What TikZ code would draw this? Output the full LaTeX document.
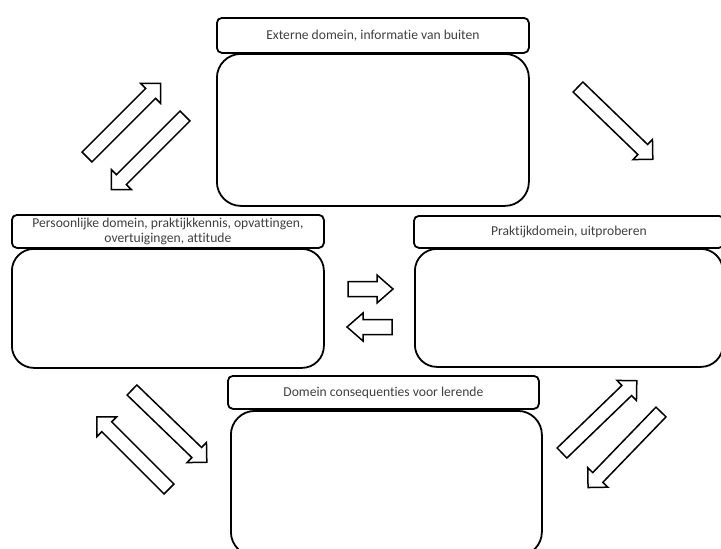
\documentclass[tikz,border=0pt]{standalone}
\usepackage{fontspec}
\setmainfont{Carlito}[Ligatures={NoCommon}]
\begin{document}
\begin{tikzpicture}[x=1pt,y=-1pt,
  titlebox/.style={draw=black, line width=1.8pt, rounded corners=5pt, fill=white,
    anchor=north west, inner sep=0pt, align=center, text=black!75,
    font=\fontsize{13.6}{17}\selectfont},
  bigbox/.style={draw=black, line width=1.8pt, rounded corners=24pt, fill=white,
    anchor=north west, inner sep=0pt},
  blockarrow/.style={draw=black, line width=1.5pt, fill=white, line join=miter}]
\useasboundingbox (0,0) rectangle (721,549);
\clip (0,0) rectangle (721,549);

\newcommand\blkarrow[7]{% x y angle length headlen shafthalf name
  \begin{scope}[shift={(#1,#2)}, rotate=#3]
    \coordinate (#7) at (0,0);
    \draw[blockarrow] (0,-#6) -- ({#4-#5},-#6) -- ({#4-#5},-14) -- (#4,0)
      -- ({#4-#5},14) -- ({#4-#5},#6) -- (0,#6) -- cycle;
  \end{scope}}

% top
\node[bigbox, minimum width=312pt, minimum height=152pt] (extb) at (216,53) {};
\node[titlebox, minimum width=312pt, minimum height=35pt] (extt) at (216,17)
  {Externe domein, informatie van buiten};
% left
\node[bigbox, rounded corners=22pt, minimum width=312pt, minimum height=119pt] (persb) at (11,248) {};
\node[titlebox, minimum width=312pt, minimum height=33pt] (perst) at (11,214)
  {\raisebox{1.5pt}{\begin{tabular}{@{}c@{}}Persoonlijke domein, praktijkkennis, opvattingen,\\[-1.5pt] overtuigingen, attitude\end{tabular}}};
% right
\node[bigbox, rounded corners=22pt, minimum width=308pt, minimum height=118pt] (praktb) at (414,248) {};
\node[titlebox, minimum width=310pt, minimum height=32pt] (praktt) at (413,215)
  {Praktijkdomein, uitproberen};
% bottom
\node[bigbox, minimum width=311pt, minimum height=145pt] (consb) at (230,410) {};
\node[titlebox, minimum width=311pt, minimum height=33pt] (const) at (227,375)
  {Domein consequenties voor lerende};

% block arrows
\blkarrow{87}{157}{45}{104}{14}{7}{a1}
\blkarrow{185}{116}{225}{104}{14}{7}{a2}
\blkarrow{578}{87}{-44}{104}{14}{7}{a3}
\blkarrow{348}{289}{0}{45}{16}{7.5}{a4}
\blkarrow{392}{327}{180}{45}{16}{7.5}{a5}
\blkarrow{132}{390}{-44}{104}{14}{7}{a6}
\blkarrow{169}{489}{135}{102}{14}{7}{a7}
\blkarrow{562}{453}{44}{104}{14}{7}{a8}
\blkarrow{661}{412}{226}{105}{14}{7}{a9}
\end{tikzpicture}
\end{document}
